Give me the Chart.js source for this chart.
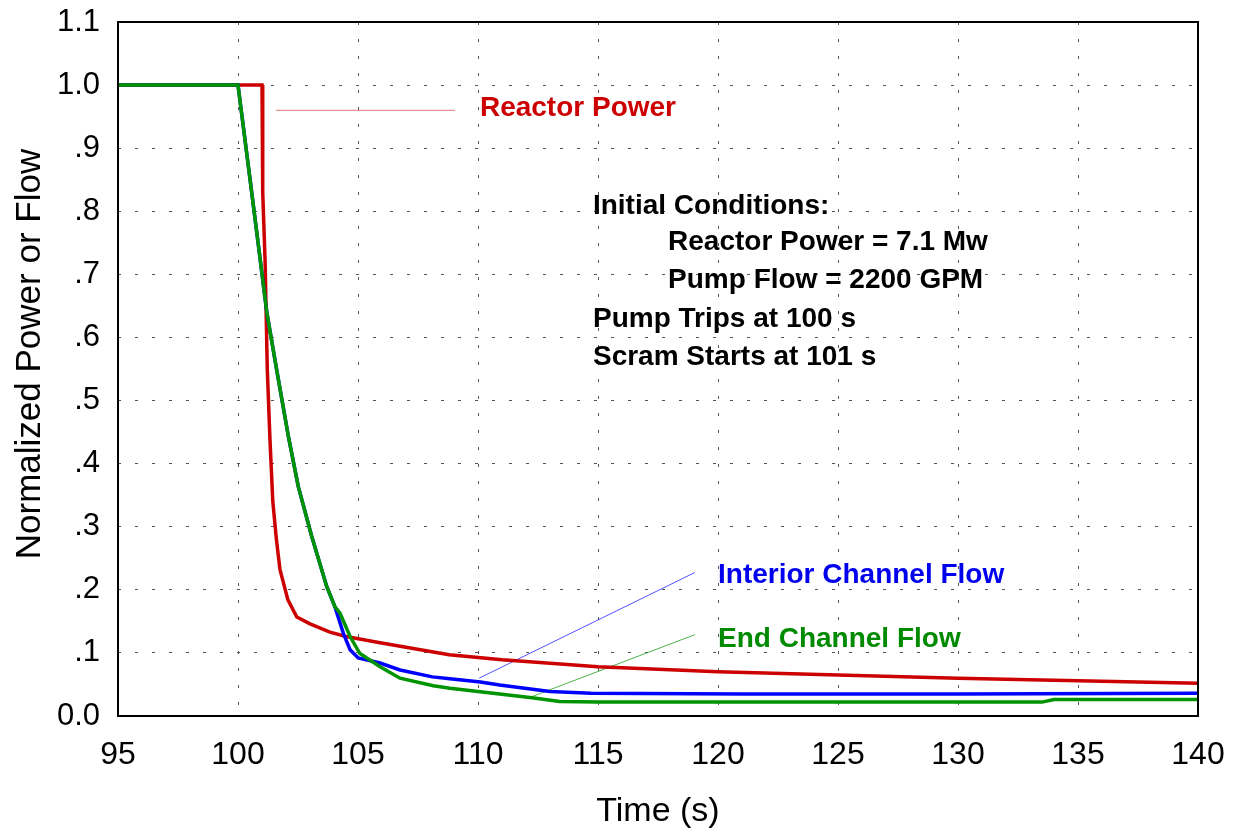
<!DOCTYPE html>
<html>
<head>
<meta charset="utf-8">
<script src="https://cdn.jsdelivr.net/npm/chart.js@4/dist/chart.umd.min.js"></script>
<style>
  html, body { margin: 0; padding: 0; background: #fff; }
  #wrap { width: 1240px; height: 834px; }
</style>
</head>
<body>
<div id="wrap"><canvas id="c" width="1240" height="834"></canvas></div>
<script>
// ---- data (time in s, normalized value) ----
const reactorT = [95, 101.0, 101.03, 101.13, 101.22, 101.33, 101.45, 101.6, 101.75, 102.08, 102.45, 103.0, 103.83, 104.5, 105.92, 108.8, 111, 115, 120, 125, 130, 135, 140];
const reactorV = [1.0, 1.0, 0.83, 0.72, 0.55, 0.44, 0.34, 0.28, 0.232, 0.184, 0.157, 0.146, 0.133, 0.126, 0.116, 0.097, 0.089, 0.078, 0.070, 0.065, 0.060, 0.056, 0.052];

const interiorT = [95, 100.0, 100.5, 100.85, 101.2, 101.61, 102.1, 102.51, 103.07, 103.7, 104.04, 104.39, 104.67, 105.01, 105.92, 106.75, 108.1, 108.83, 110.1, 110.9, 113.0, 114.7, 121, 130, 140];
const interiorV = [1.0, 1.0, 0.851, 0.746, 0.64, 0.549, 0.443, 0.364, 0.285, 0.205, 0.173, 0.131, 0.105, 0.092, 0.084, 0.073, 0.062, 0.059, 0.054, 0.049, 0.039, 0.036, 0.035, 0.035, 0.036];

const endT = [95, 100.0, 100.5, 100.85, 101.2, 101.61, 102.1, 102.51, 103.07, 103.7, 104.04, 104.25, 104.67, 105.08, 105.92, 106.75, 108.14, 108.83, 110.9, 112.25, 113.4, 115, 133.5, 134, 140];
const endV = [1.0, 1.0, 0.851, 0.746, 0.64, 0.549, 0.443, 0.364, 0.285, 0.205, 0.173, 0.163, 0.126, 0.099, 0.078, 0.060, 0.048, 0.044, 0.035, 0.029, 0.023, 0.022, 0.022, 0.026, 0.026];

// leader lines (data coordinates)
const reactorLeaderT = [101.58, 109.04];
const reactorLeaderV = [0.960, 0.960];
const interiorLeaderT = [110.05, 119.04];
const interiorLeaderV = [0.060, 0.2275];
const endLeaderT = [112.24, 119.04];
const endLeaderV = [0.0307, 0.129];

// tick labels
const xTicks = [95, 100, 105, 110, 115, 120, 125, 130, 135, 140];
const yTickLabels = ['0.0', '.1', '.2', '.3', '.4', '.5', '.6', '.7', '.8', '.9', '1.0', '1.1'];

// annotation texts (data-space anchor, baseline)
const notes = [
  { text: 'Reactor Power', t: 110.08, v: 0.951, color: '#cc0000' },
  { text: 'Interior Channel Flow', t: 120.0, v: 0.2106, color: '#0000ee' },
  { text: 'End Channel Flow', t: 120.0, v: 0.110, color: '#008a00' },
  { text: 'Initial Conditions:', t: 114.79, v: 0.795, color: '#000' },
  { text: 'Reactor Power = 7.1 Mw', t: 117.92, v: 0.738, color: '#000' },
  { text: 'Pump Flow = 2200 GPM', t: 117.92, v: 0.678, color: '#000' },
  { text: 'Pump Trips at 100 s', t: 114.79, v: 0.617, color: '#000' },
  { text: 'Scram Starts at 101 s', t: 114.79, v: 0.557, color: '#000' }
];
const yTitle = 'Normalized Power or Flow';

const zip = (ts, vs) => ts.map((t, i) => ({ x: t, y: vs[i] }));
const FONT = "'Liberation Sans', Arial, sans-serif";

const framePlugin = {
  id: 'frameAndNotes',
  afterDatasetsDraw(chart) {
    const { ctx, chartArea: a, scales } = chart;
    ctx.save();
    ctx.strokeStyle = '#000';
    ctx.lineWidth = 2;
    ctx.strokeRect(a.left, a.top, a.right - a.left, a.bottom - a.top);
    ctx.font = 'bold 28px ' + FONT;
    ctx.textAlign = 'left';
    ctx.textBaseline = 'alphabetic';
    notes.forEach(n => {
      ctx.fillStyle = n.color;
      ctx.fillText(n.text, scales.x.getPixelForValue(n.t), scales.y.getPixelForValue(n.v));
    });
    // y axis title
    ctx.translate(30, (a.top + a.bottom) / 2 - 15);
    ctx.rotate(-Math.PI / 2);
    ctx.font = '35px ' + FONT;
    ctx.fillStyle = '#000';
    ctx.textAlign = 'center';
    ctx.textBaseline = 'middle';
    ctx.fillText(yTitle, 0, 0);
    ctx.restore();
  }
};

const leader = (ts, vs, color) => ({
  data: zip(ts, vs), borderColor: color, borderWidth: 1, pointRadius: 0, showLine: true, tension: 0, order: 5
});

new Chart(document.getElementById('c'), {
  type: 'scatter',
  data: {
    datasets: [
      leader(reactorLeaderT, reactorLeaderV, 'rgba(220,90,90,0.8)'),
      leader(interiorLeaderT, interiorLeaderV, 'rgba(40,40,255,0.8)'),
      leader(endLeaderT, endLeaderV, 'rgba(30,160,30,0.8)'),
      { label: 'Reactor Power', data: zip(reactorT, reactorV), borderColor: '#cc0000', borderWidth: 3.5, pointRadius: 0, showLine: true, tension: 0, order: 3 },
      { label: 'Interior Channel Flow', data: zip(interiorT, interiorV), borderColor: '#0000ff', borderWidth: 3.5, pointRadius: 0, showLine: true, tension: 0, order: 2 },
      { label: 'End Channel Flow', data: zip(endT, endV), borderColor: '#009400', borderWidth: 3.5, pointRadius: 0, showLine: true, tension: 0, order: 1 }
    ]
  },
  options: {
    responsive: false,
    animation: false,
    devicePixelRatio: 1,
    layout: { padding: { top: 22, right: 42, left: 0, bottom: 0 } },
    plugins: { legend: { display: false }, tooltip: { enabled: false } },
    scales: {
      x: {
        type: 'linear', min: 95, max: 140,
        afterBuildTicks: s => { s.ticks = xTicks.map(v => ({ value: v })); },
        afterFit: s => { s.height = 118; s.paddingLeft = 0; s.paddingRight = 0; },
        grid: { color: '#555', lineWidth: 1, drawTicks: false },
        border: { display: false, dash: [3, 14] },
        ticks: { color: '#000', font: { family: FONT, size: 32 }, padding: 20, autoSkip: false, maxRotation: 0 },
        title: { display: true, text: 'Time (s)', color: '#000', font: { family: FONT, size: 34 }, padding: { top: 0, bottom: 2 } }
      },
      y: {
        type: 'linear', min: 0, max: 1.1,
        afterBuildTicks: s => { s.ticks = yTickLabels.map((l, i) => ({ value: i / 10 })); },
        afterFit: s => { s.width = 118; s.paddingTop = 0; s.paddingBottom = 0; },
        grid: { color: '#555', lineWidth: 1, drawTicks: false },
        border: { display: false, dash: [3, 14] },
        ticks: { color: '#000', font: { family: FONT, size: 31 }, padding: 18, autoSkip: false,
                 callback: (v, i) => yTickLabels[i] },
        title: { display: false }
      }
    }
  },
  plugins: [framePlugin]
});
</script>
</body>
</html>
